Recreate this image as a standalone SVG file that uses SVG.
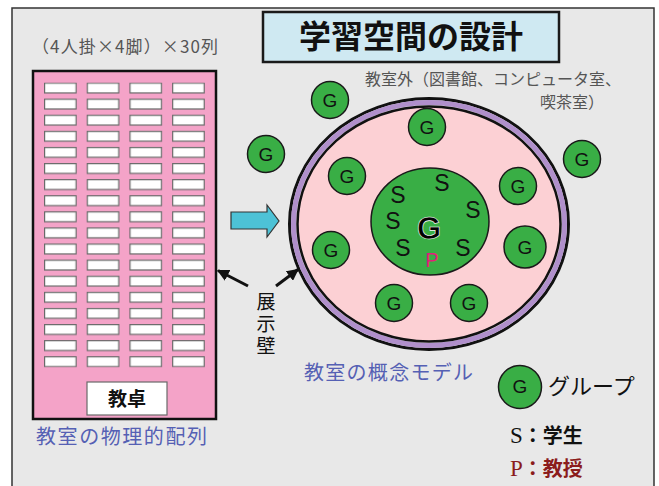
<svg xmlns="http://www.w3.org/2000/svg" width="659" height="486" viewBox="0 0 659 486">
<defs>
<style>
.jp{font-family:"Noto Sans CJK JP","Noto Sans",sans-serif}
.g{fill:#39ae45;stroke:#1a1a1a;stroke-width:1.5}
.gt{font-family:"Liberation Sans","Noto Sans",sans-serif;font-size:19px;fill:#111;text-anchor:middle}
.st{font-family:"Liberation Sans","Noto Sans",sans-serif;font-size:23px;fill:#111;text-anchor:middle}
.desk{fill:#fff;stroke:#6a6a6a;stroke-width:1.2}
.blue{fill:#5560b4;font-size:20px}
</style>
<marker id="ah" viewBox="0 0 10 10" refX="9" refY="5" markerWidth="4" markerHeight="4" orient="auto">
<path d="M0,0 L10,5 L0,10 z" fill="#111"/>
</marker>
<pattern id="desks" x="44" y="82.5" width="42.7" height="16.1" patternUnits="userSpaceOnUse">
<rect x="0.6" y="0.6" width="31.5" height="9.8" class="desk"/>
</pattern>
</defs>
<rect x="0" y="0" width="659" height="486" fill="#fff"/>
<rect x="12" y="8" width="642" height="490" fill="#e8e8e8" stroke="#333" stroke-width="1.5"/>

<g id="title">
<rect x="263" y="12" width="296" height="50" fill="#cfe9f2" stroke="#1a1a1a" stroke-width="2.5"/>
<text x="411" y="48" class="jp" font-size="32" font-weight="bold" text-anchor="middle" fill="#111">学習空間の設計</text>
</g>

<g id="classroom">
<text x="32" y="53" class="jp" font-size="17" fill="#555" textLength="186">（4人掛×4脚）×30列</text>
<rect x="33" y="71" width="183" height="348" fill="#f4a3c8" stroke="#111" stroke-width="2.5"/>
<rect x="44" y="82.5" width="170" height="285" fill="url(#desks)"/>
<rect x="87" y="382" width="80" height="33" fill="#fff" stroke="#6a6a6a" stroke-width="1.2"/>
<text x="127" y="406" class="jp" font-size="19" font-weight="bold" text-anchor="middle" fill="#111">教卓</text>
<text x="36" y="444" class="jp blue" font-size="21" textLength="171">教室の物理的配列</text>
</g>

<g id="connectors">
<path d="M231,212 H267 V205 L279,221 L267,237 V229 H231 Z" fill="#4dc2d6" stroke="#333" stroke-width="1.2"/>
<line x1="248" y1="286" x2="218" y2="270.5" stroke="#111" stroke-width="3" marker-end="url(#ah)"/>
<line x1="276" y1="286" x2="298" y2="269.5" stroke="#111" stroke-width="3" marker-end="url(#ah)"/>
</g>

<g id="wall-label">
<text x="266" y="292" class="jp" font-size="19" writing-mode="vertical-rl" letter-spacing="3" fill="#111">展示壁</text>
</g>

<g id="outside-label">
<text x="365" y="85" class="jp" font-size="16" fill="#555">教室外（図書館、コンピュータ室、</text>
<text x="540" y="108" class="jp" font-size="16" fill="#555">喫茶室）</text>
</g>

<g id="concept-room">
<ellipse cx="429" cy="224" rx="139.5" ry="125.5" fill="none" stroke="#111" stroke-width="3"/>
<ellipse cx="429" cy="224" rx="135.5" ry="121.5" fill="none" stroke="#b08fcb" stroke-width="5"/>
<ellipse cx="429" cy="224" rx="131.5" ry="117.5" fill="#fcd0d4" stroke="#111" stroke-width="2.5"/>
</g>

<g id="center-group">
<ellipse cx="430" cy="221.5" rx="59" ry="53.5" class="g"/>
<text x="442" y="191" class="st">S</text>
<text x="398" y="203" class="st">S</text>
<text x="473" y="218" class="st">S</text>
<text x="393" y="229" class="st">S</text>
<text x="403" y="256" class="st">S</text>
<text x="463" y="256" class="st">S</text>
<text x="429" y="239" font-family="Liberation Sans,sans-serif" font-size="31" font-weight="bold" text-anchor="middle" fill="#000" stroke="#fff" stroke-width="0.6">G</text>
<text x="432" y="267" font-family="Liberation Sans,sans-serif" font-size="20" text-anchor="middle" fill="#e0207a">P</text>
</g>

<g id="g-in-1"><circle cx="427" cy="127" r="18.5" class="g"/><text x="427" y="134" class="gt">G</text></g>
<g id="g-in-2"><circle cx="347" cy="176" r="18.5" class="g"/><text x="347" y="183" class="gt">G</text></g>
<g id="g-in-3"><circle cx="518" cy="186" r="18.5" class="g"/><text x="518" y="193" class="gt">G</text></g>
<g id="g-in-4"><circle cx="331" cy="250" r="18.5" class="g"/><text x="331" y="257" class="gt">G</text></g>
<g id="g-in-5"><circle cx="525" cy="247" r="21" class="g"/><text x="525" y="254" class="gt">G</text></g>
<g id="g-in-6"><circle cx="394" cy="303" r="18.5" class="g"/><text x="394" y="310" class="gt">G</text></g>
<g id="g-in-7"><circle cx="469" cy="303" r="18.5" class="g"/><text x="469" y="310" class="gt">G</text></g>
<g id="g-out-1"><circle cx="330" cy="100" r="18.5" class="g"/><text x="330" y="107" class="gt">G</text></g>
<g id="g-out-2"><circle cx="266" cy="154" r="18.5" class="g"/><text x="266" y="161" class="gt">G</text></g>
<g id="g-out-3"><circle cx="582" cy="159" r="18.5" class="g"/><text x="582" y="166" class="gt">G</text></g>

<g id="concept-label">
<text x="304" y="380" class="jp blue" font-size="20" textLength="169">教室の概念モデル</text>
</g>

<g id="legend">
<circle cx="520" cy="387" r="21.5" class="g"/>
<text x="520" y="393" class="gt" font-size="17">G</text>
<text x="548" y="394" class="jp" font-size="22" fill="#111">グループ</text>
<text x="510" y="443" fill="#111" font-size="20"><tspan font-family="Liberation Serif,serif" font-size="23">S</tspan><tspan class="jp" font-weight="bold">：学生</tspan></text>
<text x="510" y="476" fill="#8b1c1c" font-size="20"><tspan font-family="Liberation Serif,serif" font-size="23">P</tspan><tspan class="jp" font-weight="bold">：教授</tspan></text>
</g>
</svg>
